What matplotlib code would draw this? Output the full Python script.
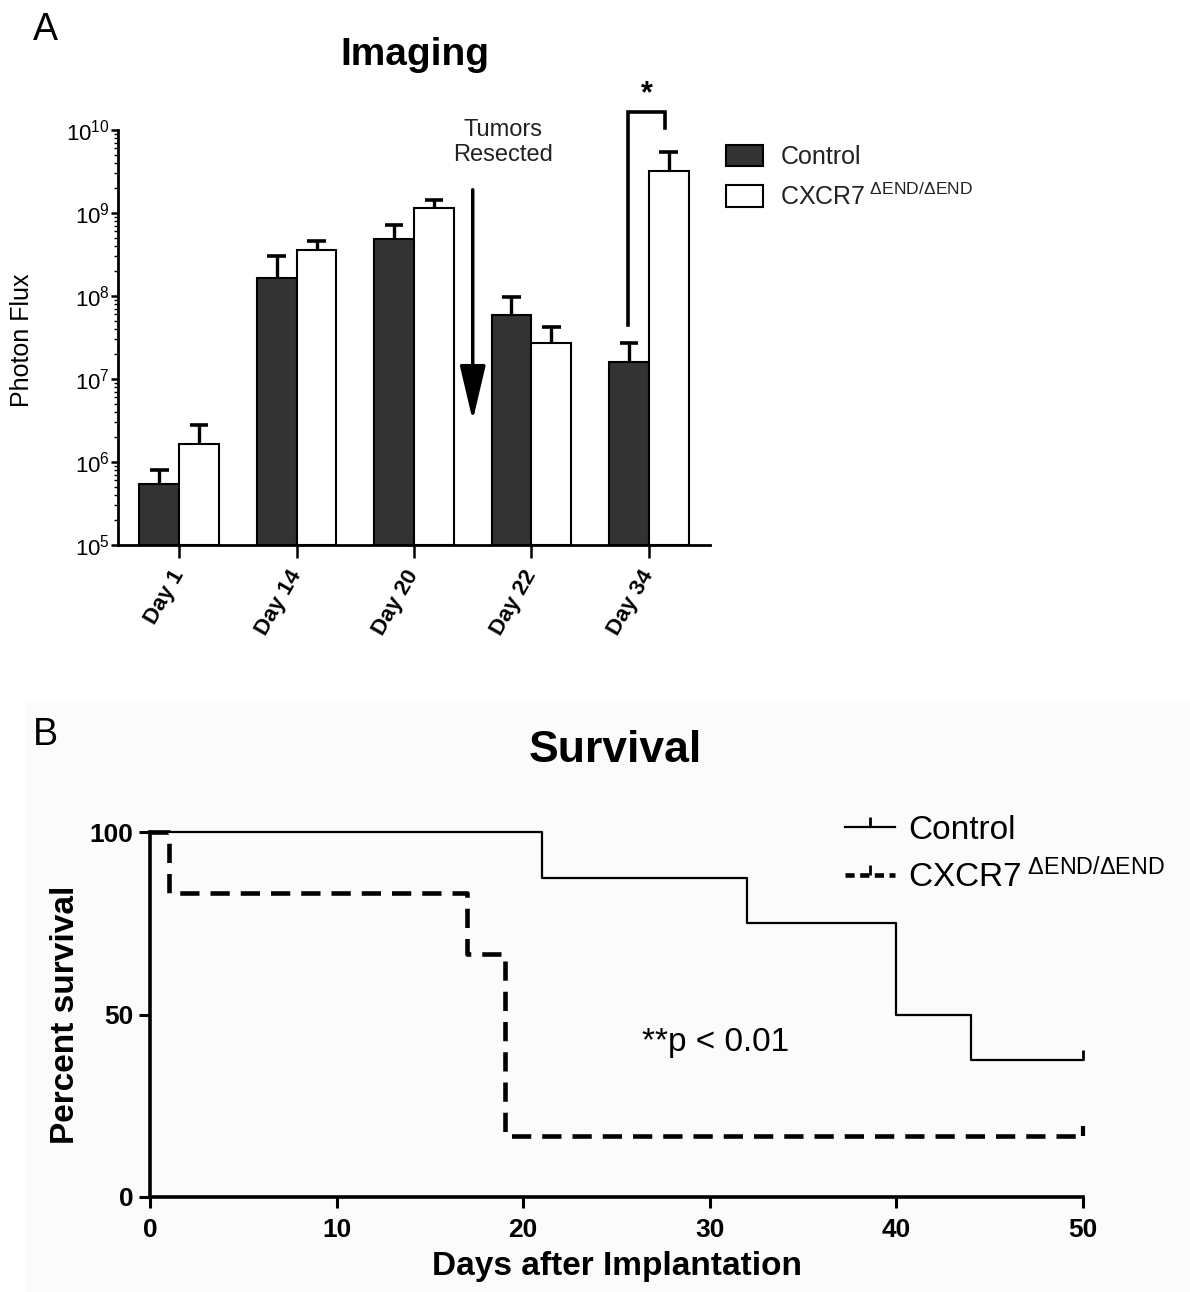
import numpy as np
import matplotlib
matplotlib.use('Agg')
import matplotlib.pyplot as plt
from matplotlib.patches import Patch, Rectangle
from matplotlib.lines import Line2D
from matplotlib.ticker import LogLocator, FixedLocator, NullFormatter

plt.rcParams['font.family'] = ['Liberation Sans', 'DejaVu Sans']
plt.rcParams['mathtext.fontset'] = 'custom'
plt.rcParams['mathtext.rm'] = 'Liberation Sans'
plt.rcParams['mathtext.it'] = 'Liberation Sans:italic'
plt.rcParams['mathtext.bf'] = 'Liberation Sans:bold'

# panel A: imaging (photon flux, mean + upper error)
days = ['Day 1', 'Day 14', 'Day 20', 'Day 22', 'Day 34']
ctrl_flux = np.array([5.5e5, 1.66e8, 4.8e8, 5.85e7, 1.62e7])
ctrl_err_top = np.array([8.0e5, 3.0e8, 7.2e8, 9.7e7, 2.7e7])
cx_flux = np.array([1.63e6, 3.6e8, 1.14e9, 2.74e7, 3.2e9])
cx_err_top = np.array([2.8e6, 4.6e8, 1.44e9, 4.2e7, 5.5e9])

# panel B: Kaplan-Meier survival
ctrl_days = [0, 21, 32, 40, 44, 50]
ctrl_surv = [100, 87.5, 75, 50, 37.5, 37.5]
cx_days = [0, 1, 17, 19, 50]
cx_surv = [100, 83.3, 66.7, 16.7, 16.7]

cx_label = r'CXCR7$^{\ \Delta\mathrm{END/}\Delta\mathrm{END}}$'

fig = plt.figure(figsize=(11.9, 12.92), dpi=100)
fig.patches.append(Rectangle((25 / 1190, 0), 1, 1 - 700 / 1292, transform=fig.transFigure,
                             facecolor='#fbfbfb', edgecolor='none', zorder=-10))

# ---------------- panel A ----------------
ax = fig.add_axes([118 / 1190, 1 - 545 / 1292, 592 / 1190, 415 / 1292])
x = np.arange(len(days))
w = 0.34
low = 1e5
ax.bar(x - w / 2, ctrl_flux - low, w, bottom=low, color='#333333', edgecolor='black', lw=1.5, zorder=3)
ax.bar(x + w / 2, cx_flux - low, w, bottom=low, color='white', edgecolor='black', lw=1.5, zorder=3)
cap = 0.08
for xs, v, e in [(x - w / 2, ctrl_flux, ctrl_err_top), (x + w / 2, cx_flux, cx_err_top)]:
    ax.vlines(xs, v, e, color='black', lw=2.4, zorder=2)
    ax.hlines(e, xs - cap, xs + cap, color='black', lw=2.6, zorder=2)

ax.set_yscale('log')
ax.set_ylim(1e5, 1e10)
ax.set_xlim(-0.52, 4.52)
ax.yaxis.set_major_locator(LogLocator(base=10, numticks=10))
ax.yaxis.set_minor_locator(LogLocator(base=10, subs=np.arange(2, 10), numticks=20))
ax.yaxis.set_minor_formatter(NullFormatter())
ax.set_xticks(x)
ax.set_xticklabels(days, rotation=60, ha='right', va='center', rotation_mode='anchor',
                   fontsize=16, fontweight='bold')
ax.tick_params(axis='x', length=9, width=1.8, pad=10)
ax.tick_params(axis='y', which='major', length=5, width=1.8, labelsize=16, pad=1)
ax.tick_params(axis='y', which='minor', length=3, width=1.0)
for s in ['top', 'right']:
    ax.spines[s].set_visible(False)
for s in ['left', 'bottom']:
    ax.spines[s].set_linewidth(2.0)

# resection arrow
ax.annotate('', xy=(2.5, 10 ** 6.5), xytext=(2.5, 10 ** 9.28),
            arrowprops=dict(arrowstyle='-|>,head_length=1.7,head_width=0.4', lw=2.5,
                            color='black', mutation_scale=20, shrinkA=0, shrinkB=0))
ax.text(2.76, 10 ** 9.57, 'Tumors\nResected', ha='center', va='bottom', fontsize=17,
        linespacing=1.15, color='#222222')

# significance bracket
ax.plot([3.82, 3.82, 4.14, 4.14], [10 ** 7.65, 10 ** 10.22, 10 ** 10.22, 10 ** 10.02],
        color='black', lw=2.6, clip_on=False, solid_joinstyle='miter')
ax.text(3.98, 10 ** 10.25, '*', ha='center', va='bottom', fontsize=22, fontweight='bold')

leg_a = fig.legend(handles=[Patch(facecolor='#333333', edgecolor='black', lw=1.5),
                            Patch(facecolor='white', edgecolor='black', lw=1.5)],
                   labels=['Control', cx_label], loc='upper left',
                   bbox_to_anchor=(703 / 1190, 1 - 122 / 1292), frameon=False,
                   fontsize=18, handlelength=1.5, handleheight=0.95, labelspacing=0.55,
                   handletextpad=0.7)
for t in leg_a.get_texts():
    t.set_color('#222222')

fig.text(415 / 1190, 1 - 55 / 1292, 'Imaging', ha='center', va='center', fontsize=28, fontweight='bold')
fig.text(45 / 1190, 1 - 30 / 1292, 'A', ha='center', va='center', fontsize=27)
fig.text(22 / 1190, 1 - 340 / 1292, 'Photon Flux', ha='center', va='center', rotation=90, fontsize=18)

# ---------------- panel B ----------------
bx = fig.add_axes([150 / 1190, 1 - 1197 / 1292, 933 / 1190, 365 / 1292])
bx.set_facecolor('none')
bx.step(ctrl_days, ctrl_surv, where='post', color='black', lw=1.6, clip_on=False)
bx.step(cx_days, cx_surv, where='post', color='black', lw=3.3, dashes=(4.2, 2.4), clip_on=False)
bx.plot([ctrl_days[-1]], [ctrl_surv[-1]], marker=2, color='black', ms=7, mew=2, clip_on=False)
bx.plot([cx_days[-1]], [cx_surv[-1]], marker=2, color='black', ms=7, mew=3, clip_on=False)
bx.set_xlim(0, 50)
bx.set_ylim(0, 100)
bx.xaxis.set_major_locator(FixedLocator([0, 10, 20, 30, 40, 50]))
bx.yaxis.set_major_locator(FixedLocator([0, 50, 100]))
bx.tick_params(axis='both', length=8, width=2.2, labelsize=19)
bx.tick_params(axis='x', pad=7)
bx.tick_params(axis='y', pad=4)
for lab in bx.get_xticklabels() + bx.get_yticklabels():
    lab.set_fontweight('bold')
for s in ['top', 'right']:
    bx.spines[s].set_visible(False)
for s in ['left', 'bottom']:
    bx.spines[s].set_linewidth(2.6)
bx.text(30.3, 42.2, '**p < 0.01', ha='center', va='center', fontsize=24)

fig.legend(handles=[Line2D([], [], color='black', lw=1.6, marker=2, ms=7, mew=2),
                    Line2D([], [], color='black', lw=3.3, dashes=(2.0, 1.2), marker=2, ms=7, mew=2)],
           labels=['Control', cx_label], loc='upper left',
           bbox_to_anchor=(815 / 1190, 1 - 785 / 1292), frameon=False, fontsize=24,
           handlelength=1.5, labelspacing=0.35, handletextpad=0.4, numpoints=1)

fig.text(615 / 1190, 1 - 750 / 1292, 'Survival', ha='center', va='center', fontsize=32, fontweight='bold')
fig.text(45 / 1190, 1 - 735 / 1292, 'B', ha='center', va='center', fontsize=27)
fig.text(65 / 1190, 1 - 1015 / 1292, 'Percent survival', ha='center', va='center', rotation=90,
         fontsize=24, fontweight='bold')
fig.text(617 / 1190, 1 - 1266 / 1292, 'Days after Implantation', ha='center', va='center',
         fontsize=24, fontweight='bold')

fig.savefig('out.png', dpi=100)
